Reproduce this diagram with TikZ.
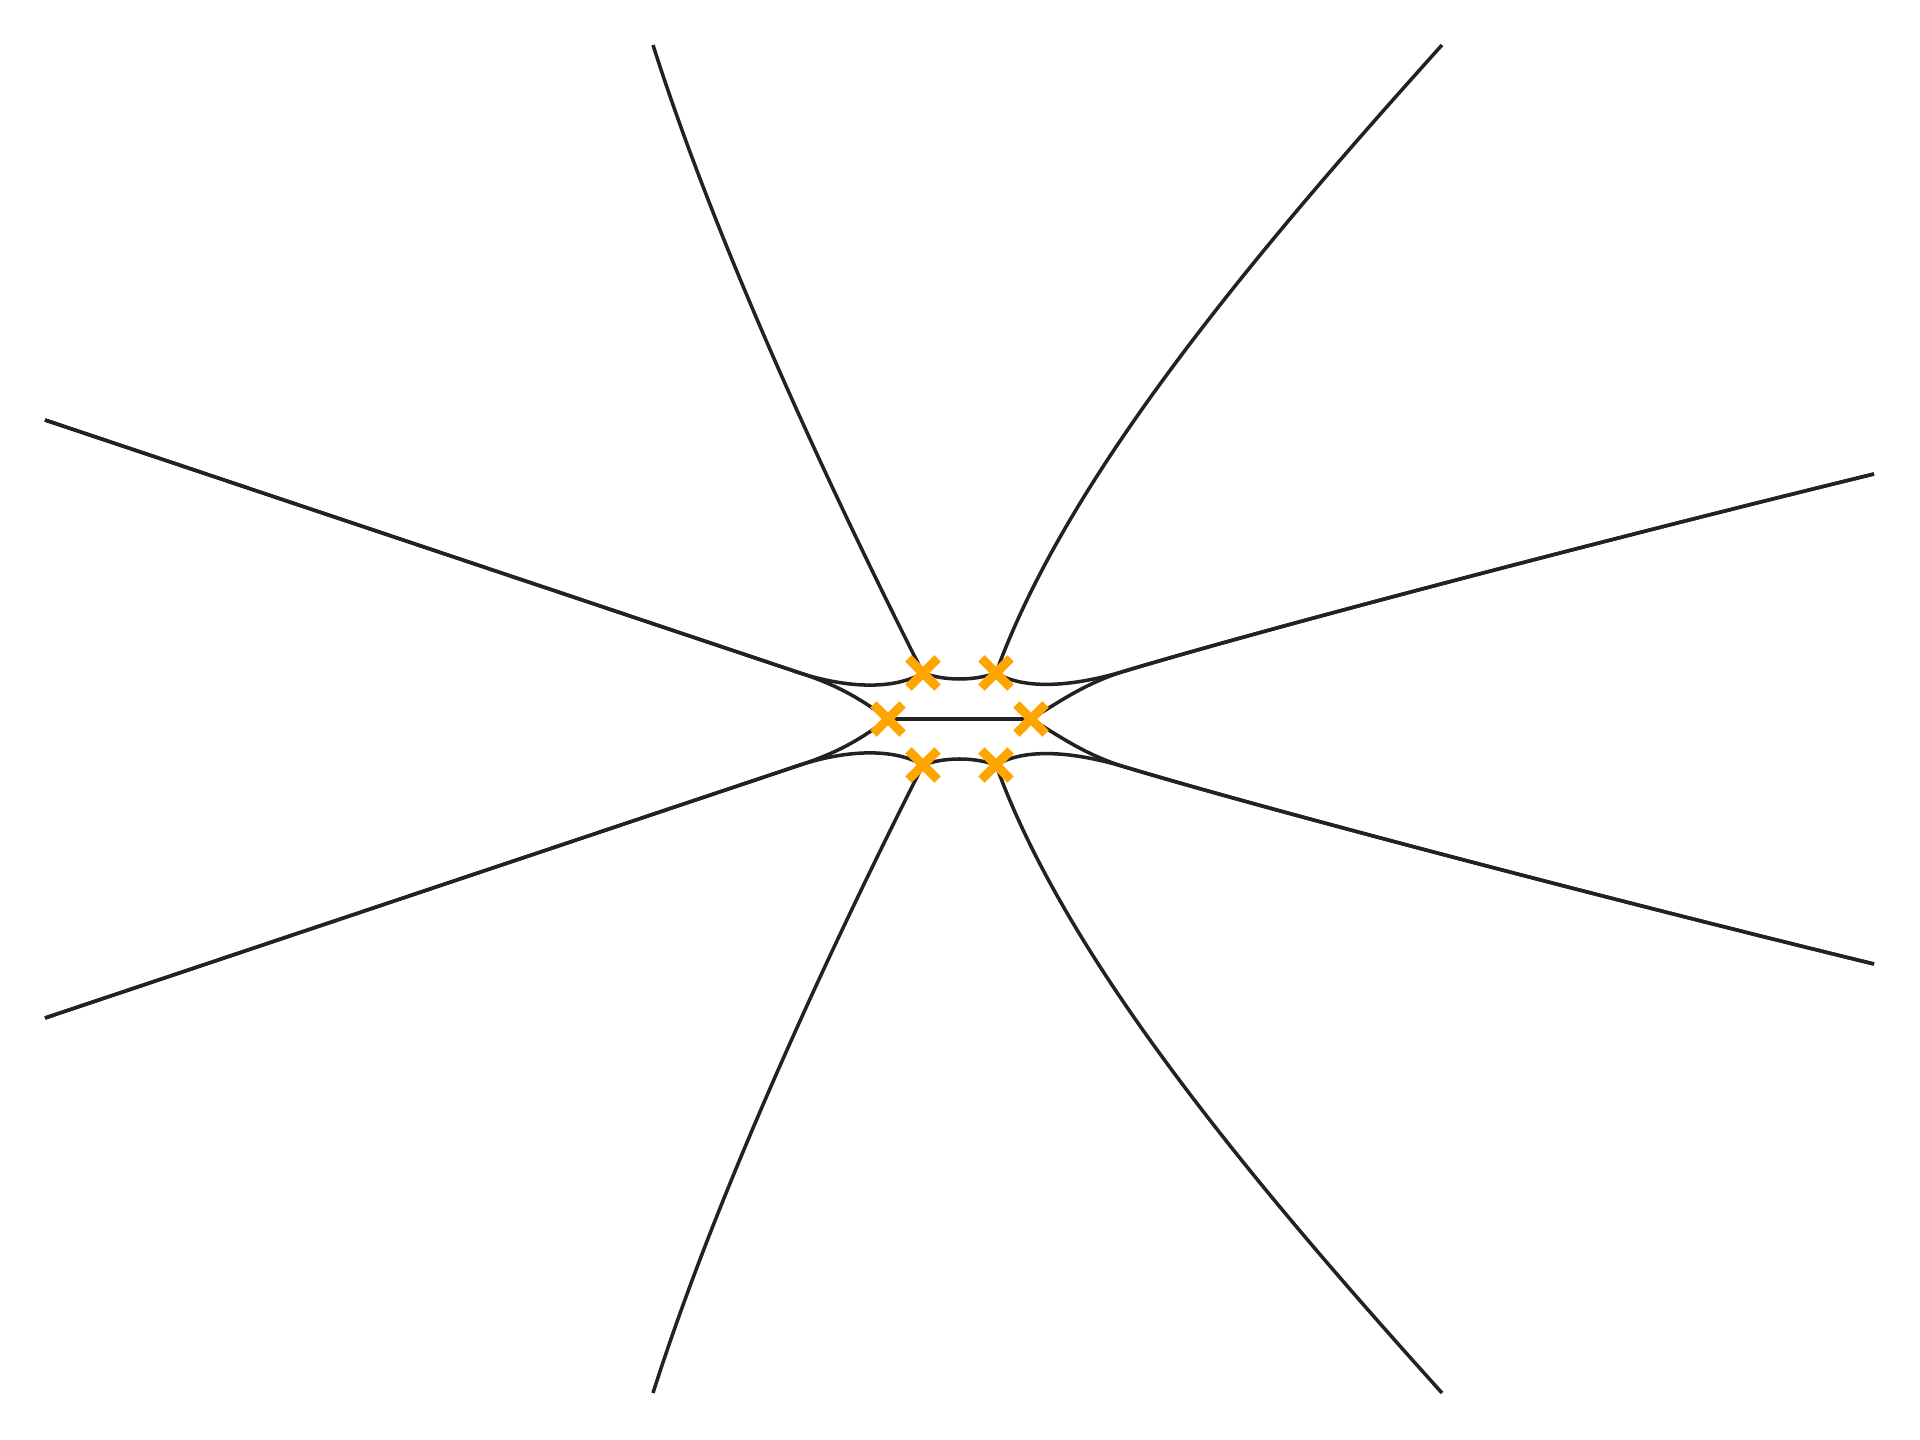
\documentclass[tikz,border=0pt]{standalone}
\usepackage{tikz}
\usetikzlibrary{shapes.misc}
\definecolor{tia}{HTML}{222222}
\definecolor{cam}{HTML}{FFA500}

\begin{document}
\begin{tikzpicture}[x=0.01cm, y=-0.01cm,
    duong/.style={draw=tia, line width=1pt},
    nhanh/.style={cross out, draw=cam, line width=2.6pt, minimum size=0.2cm, inner sep=0pt}]
    \useasboundingbox (0,0) rectangle (1920,1440);
    % Điểm rẽ nhánh
    \coordinate (tl) at (923,673);
    \coordinate (tr) at (996,673);
    \coordinate (ml) at (888,719);
    \coordinate (mr) at (1031,719);
    \coordinate (bl) at (923,765);
    \coordinate (br) at (996,765);
    % Đầu mút các tia
    \coordinate (nw) at (653,45);
    \coordinate (ne) at (1442,45);
    \coordinate (sw) at (653,1393);
    \coordinate (se) at (1442,1393);
    \coordinate (wn) at (45,420);
    \coordinate (ws) at (45,1018);
    \coordinate (en) at (1874,474);
    \coordinate (es) at (1874,964);
    % Chỗ hai nhánh tách ra
    \coordinate (tachwn) at (800,673);
    \coordinate (tachws) at (800,765);
    \coordinate (tachen) at (1125,671);
    \coordinate (taches) at (1125,767);

    % Tia trên và dưới
    \draw[duong] (tl) .. controls (825,480) and (715,240) .. (nw);
    \draw[duong] (tr) .. controls (1068,473) and (1262,245) .. (ne);
    \draw[duong] (bl) .. controls (825,958) and (715,1198) .. (sw);
    \draw[duong] (br) .. controls (1068,965) and (1262,1193) .. (se);
    % Tia trái
    \draw[duong] (wn) -- (tachwn) .. controls (840,686) and (890,692) .. (tl);
    \draw[duong] (wn) -- (tachwn) .. controls (840,686) and (862,700) .. (ml);
    \draw[duong] (ws) -- (tachws) .. controls (840,752) and (890,746) .. (bl);
    \draw[duong] (ws) -- (tachws) .. controls (840,752) and (862,738) .. (ml);
    % Tia phải
    \draw[duong] (en) .. controls (1624,535) and (1275,626) .. (tachen)
        .. controls (1085,683) and (1030,693) .. (tr);
    \draw[duong] (en) .. controls (1624,535) and (1275,626) .. (tachen)
        .. controls (1085,683) and (1056,704) .. (mr);
    \draw[duong] (es) .. controls (1624,903) and (1275,812) .. (taches)
        .. controls (1085,755) and (1030,745) .. (br);
    \draw[duong] (es) .. controls (1624,903) and (1275,812) .. (taches)
        .. controls (1085,755) and (1056,734) .. (mr);
    % Đoạn nối giữa các điểm
    \draw[duong] (tl) .. controls (945,681) and (974,681) .. (tr);
    \draw[duong] (ml) -- (mr);
    \draw[duong] (bl) .. controls (945,757) and (974,757) .. (br);

    % Dấu x
    \foreach \p in {tl,tr,ml,mr,bl,br}
        \node[nhanh] (x\p) at (\p) {};
\end{tikzpicture}
\end{document}
